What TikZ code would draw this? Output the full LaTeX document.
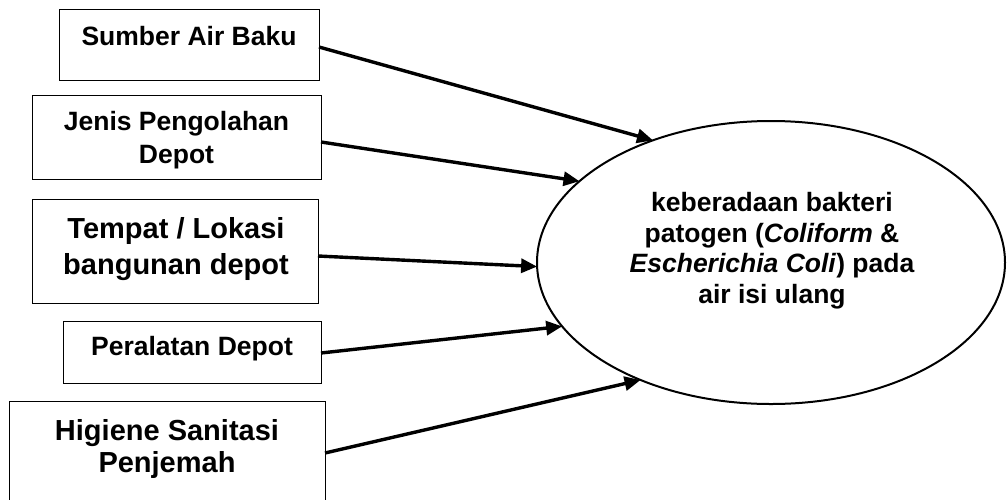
\documentclass[tikz,border=0pt]{standalone}
\usepackage{fontspec}
\setmainfont{Liberation Sans}
\usetikzlibrary{arrows.meta,shapes.geometric}
\tikzset{
  box/.style={draw, line width=1pt, inner sep=0pt, outer sep=0pt},
  lbl/.style={anchor=base, align=center, inner sep=0pt, font=\bfseries},
  small/.style={font=\fontsize{26.5}{33}\selectfont\bfseries},
  big/.style={font=\fontsize{29}{36}\selectfont\bfseries},
  link/.style={line width=3.4pt, -{Triangle[length=16pt,width=14pt]}},
}
\begin{document}
\begin{tikzpicture}[x=1pt,y=-1pt]
\useasboundingbox (0,0) rectangle (1007,499);
\clip (0,0) rectangle (1007,499);
% boxes
\node[box, minimum width=260pt, minimum height=71pt] (b1) at (189,44.5) {};
\node[box, minimum width=289pt, minimum height=84pt] (b2) at (176.5,137) {};
\node[box, minimum width=286pt, minimum height=104pt] (b3) at (175,251) {};
\node[box, minimum width=258pt, minimum height=62pt] (b4) at (192,352) {};
\node[box, minimum width=316pt, minimum height=106pt] (b5) at (167,454) {};
% texts (base anchor = baseline of the last line)
\node[lbl, small] (t1) at (189,45) {Sumber Air Baku};
\node[lbl, small] (t2) at (176.5,163) {Jenis Pengolahan\\Depot};
\node[lbl, big] (t3) at (176,274) {Tempat / Lokasi\\bangunan depot};
\node[lbl, small] (t4) at (192,355) {Peralatan Depot};
\node[lbl, big, font=\fontsize{29}{32}\selectfont\bfseries] (t5) at (167,472) {Higiene Sanitasi\\Penjemah};
% ellipse
\node[draw, ellipse, line width=2pt, inner sep=0pt, outer sep=0pt, minimum width=468pt, minimum height=283pt] (e) at (771,262.5) {};
\node[lbl, font=\fontsize{26.5}{30.5}\selectfont\bfseries] (et) at (772,303) {keberadaan bakteri\\patogen (\textit{Coliform} \&\\\textit{Escherichia Coli}) pada\\air isi ulang};
% connectors
\draw[link] ([yshift=-2.5pt]b1.east) -- (e.134.2);
\draw[link] ([yshift=-5pt]b2.east) -- (e.157.9);
\draw[link] ([yshift=-5pt]b3.east) -- (e.181.1);
\draw[link] ([yshift=-1pt]b4.east) -- (e.197.9);
\draw[link] ([yshift=1pt]b5.east) -- (e.222.1);
\end{tikzpicture}
\end{document}
